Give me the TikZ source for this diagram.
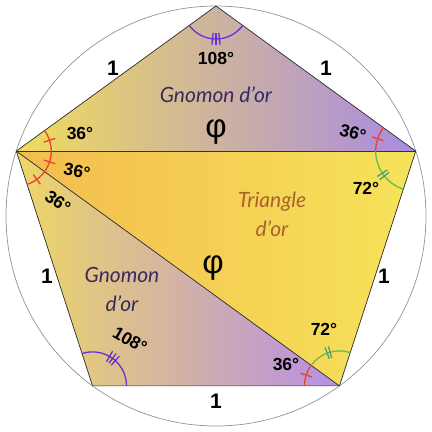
\documentclass[tikz,border=0pt]{standalone}
\usepackage{fontspec}
\setmainfont{Liberation Sans}
\newfontfamily\latofont{Lato}
\usetikzlibrary{calc}
\definecolor{redarc}{HTML}{E8432B}
\definecolor{greenarc}{HTML}{6CBB4E}
\definecolor{greentick}{HTML}{4E9C72}
\definecolor{purparc}{HTML}{6530DC}
\definecolor{gyel}{HTML}{F0DC5C}
\definecolor{gmid}{HTML}{D6B892}
\definecolor{gpur}{HTML}{A98AE2}
\definecolor{lyel}{HTML}{EED766}
\definecolor{lmid}{HTML}{D8B793}
\definecolor{lpur}{HTML}{B78EE4}
\definecolor{torange}{HTML}{F3BC4E}
\definecolor{tyel}{HTML}{F6E35A}
\definecolor{gtext}{HTML}{3B2A5E}
\definecolor{ttext}{HTML}{A8612F}
\newcommand\angtick[4]{\draw[#4] ([shift={(#2:#3-6)}]#1) -- ([shift={(#2:#3+6)}]#1);}
\begin{document}
\begin{tikzpicture}[x=1pt,y=1pt,
  edgeline/.style={draw=black!80,line width=0.7pt},
  anglbl/.style={font=\bfseries\fontsize{17.5}{17.5}\selectfont,inner sep=1pt},
  sidelbl/.style={font=\bfseries\fontsize{21}{21}\selectfont},
  philbl/.style={font=\fontsize{33}{33}\selectfont,inner sep=0pt},
  gnlbl/.style={font=\latofont\itshape\fontsize{21}{29}\selectfont,text=gtext,align=center,inner sep=0pt},
  trlbl/.style={font=\latofont\itshape\fontsize{21}{29}\selectfont,text=ttext,align=center,inner sep=0pt},
  redA/.style={draw=redarc,line width=1.3pt},
  greenA/.style={draw=greenarc,line width=1.3pt},
  greenT/.style={draw=greentick,line width=1.3pt},
  purpA/.style={draw=purparc,line width=1.3pt}]
\useasboundingbox (-216,-216) rectangle (216,216);
\coordinate (T) at (90:210);
\coordinate (UL) at (162:210);
\coordinate (LL) at (234:210);
\coordinate (LR) at (306:210);
\coordinate (UR) at (18:210);
% fills
\fill[left color=gyel,middle color=gmid,right color=gpur] (T) -- (UR) -- (UL) -- cycle;
\fill[left color=torange,right color=tyel] (UL) -- (UR) -- (LR) -- cycle;
\fill[left color=lyel,middle color=lmid,right color=lpur] (UL) -- (LR) -- (LL) -- cycle;
% circle
\draw[gray!85,line width=0.7pt] (0,0) circle[radius=210];
% edges
\draw[edgeline] (T) -- (UR) -- (LR) -- (LL) -- (UL) -- cycle;
\draw[edgeline] (UL) -- (UR);
\draw[edgeline] (UL) -- (LR);
% top vertex
\draw[purpA] ([shift={(216:33)}]T) arc[start angle=216,end angle=324,radius=33];
\angtick{T}{264}{33}{purpA}\angtick{T}{270}{33}{purpA}\angtick{T}{276}{33}{purpA}
% upper left
\draw[redA] ([shift={(36:35)}]UL) arc[start angle=36,end angle=-72,radius=35];
\angtick{UL}{18}{35}{redA}\angtick{UL}{-18}{35}{redA}\angtick{UL}{-54}{35}{redA}
% upper right
\draw[redA] ([shift={(144:40)}]UR) arc[start angle=144,end angle=180,radius=40];
\draw[greenA] ([shift={(180:40)}]UR) arc[start angle=180,end angle=252,radius=40];
\angtick{UR}{162}{40}{redA}
\angtick{UR}{213.5}{40}{greenT}\angtick{UR}{218.5}{40}{greenT}
% lower right
\draw[redA] ([shift={(180:35)}]LR) arc[start angle=180,end angle=144,radius=35];
\draw[greenA] ([shift={(144:35)}]LR) arc[start angle=144,end angle=72,radius=35];
\angtick{LR}{162}{35}{redA}
\angtick{LR}{105.5}{35}{greenT}\angtick{LR}{110.5}{35}{greenT}
% lower left
\draw[purpA] ([shift={(0:34)}]LL) arc[start angle=0,end angle=108,radius=34];
\angtick{LL}{48}{34}{purpA}\angtick{LL}{54}{34}{purpA}\angtick{LL}{60}{34}{purpA}
% labels
\node[anglbl] (a108t) at (0,158) {108°};
\node[gnlbl] (gt) at (0,121) {Gnomon d’or};
\node[philbl] (phit) at (0,84) {φ};
\node[sidelbl] (s1) at (-103,148) {1};
\node[sidelbl] (s2) at (110,148) {1};
\node[sidelbl] (s3) at (-169,-60) {1};
\node[sidelbl] (s4) at (168,-60) {1};
\node[sidelbl] (s5) at (0,-185) {1};
\node[anglbl] (a36a) at (-136,83) {36°};
\node[anglbl,rotate=-10] (a36b) at (-139,45) {36°};
\node[anglbl,rotate=-35] (a36c) at (-158,14) {36°};
\node[anglbl,rotate=-15] (a36d) at (137,83) {36°};
\node[anglbl] (a72a) at (150,28) {72°};
\node[anglbl] (a72b) at (108,-113) {72°};
\node[anglbl] (a36e) at (70,-148) {36°};
\node[anglbl,rotate=-30] (a108l) at (-86,-124) {108°};
\node[trlbl] (tr) at (56,2) {Triangle\\d’or};
\node[gnlbl] (gl) at (-94,-73) {Gnomon\\d’or};
\node[philbl] (phil) at (-3,-52) {φ};
\end{tikzpicture}
\end{document}
